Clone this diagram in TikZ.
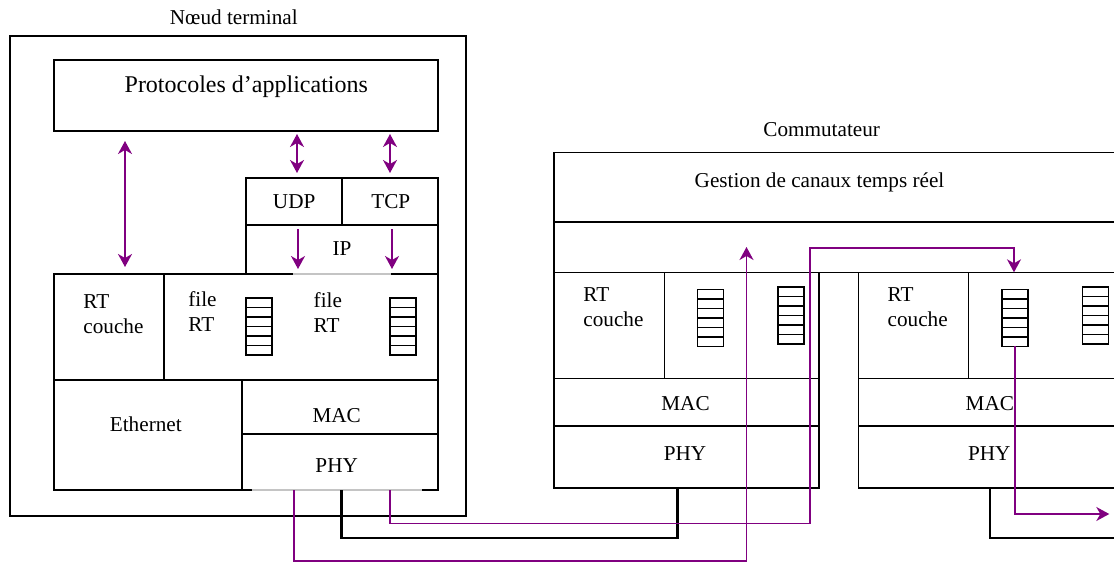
\documentclass[tikz,border=0pt]{standalone}
\usepackage{fontspec}
\setmainfont{Liberation Serif}
\usetikzlibrary{arrows.meta, fit}
\definecolor{sigpurple}{HTML}{800080}
\definecolor{gapgray}{HTML}{C4C4C4}
\newcommand{\lblfont}{\fontsize{10.6}{12.5}\selectfont}
\newcommand{\bigfont}{\fontsize{12}{14}\selectfont}

\begin{document}
\begin{tikzpicture}[
  x=0.5pt, y=-0.5pt,
  box/.style={draw, line width=0.8pt, inner sep=0pt, outer sep=0pt},
  lbl/.style={inner sep=0pt, font=\lblfont},
  lbl2/.style={inner sep=0pt, font=\lblfont, align=left, anchor=west},
  qline/.style={line width=0.7pt},
  sig/.style={draw=sigpurple, line width=0.75pt},
  sigarr/.style={-{Stealth[length=6.5pt, width=7pt, inset=2pt]}},
  dbl/.style={{Stealth[length=6.5pt, width=7pt, inset=2pt]}-{Stealth[length=6.5pt, width=7pt, inset=2pt]}},
  cable/.style={line width=1.4pt},
  gapline/.style={draw=gapgray, line width=0.8pt},
  fileq/.pic={
    \draw[qline] (0,0) rectangle (26,57);
    \foreach \r in {1,...,5} {\draw[qline] (0,\r*9.5) -- (26,\r*9.5);}
    \coordinate (-bot) at (13,57);
  }
]
\useasboundingbox (0,0) rectangle (1114,563);
\clip (0,0) rectangle (1114,563);

% noeud terminal
\node[lbl] (ntitle) at (233.8,17.3) {Nœud terminal};
\node[box, fit={(10,36) (466,516)}] (term) {};
\node[box, fit={(54,60) (438,131)}] (app) {};
\node[lbl, font=\bigfont] (apptxt) at (246.3,86.7) {Protocoles d’applications};

\node[box, fit={(246,178) (342,225)}] (udp) {};
\node[box, fit={(342,178) (438,225)}] (tcp) {};
\node[box, fit={(246,225) (438,274)}] (ip) {};
\node[lbl] (udptxt) at (294.2,201.7) {UDP};
\node[lbl] (tcptxt) at (390.8,201.7) {TCP};
\node[lbl] (iptxt) at (342,248.8) {IP};

\node[box, fit={(54,274) (164,380)}] (rtL) {};
\node[box, fit={(164,274) (438,380)}] (fileL) {};
\node[box, fit={(54,380) (242,490)}] (ethL) {};
\node[box, fit={(242,380) (438,434)}] (macL) {};
\node[box, fit={(242,434) (438,490)}] (phyL) {};
\draw[gapline] (293,274) -- (391,274);
\draw[gapline] (251.7,490) -- (421.7,490);

\node[lbl2] (rtLtxt) at (83,313.7) {RT\\couche};
\node[lbl2] (fileAtxt) at (188,311.3) {file\\RT};
\node[lbl2] (fileBtxt) at (313.3,312.8) {file\\RT};
\pic (qa) at (246,298) {fileq};
\pic (qb) at (390,298) {fileq};
\node[lbl] (ethtxt) at (145.8,424.7) {Ethernet};
\node[lbl] (macLtxt) at (336.7,415.5) {MAC};
\node[lbl] (phyLtxt) at (336.7,465.8) {PHY};

\draw[sig, dbl] ([shift={(71,10)}]app.south west) -- ([shift={(71,-7)}]rtL.north west);
\draw[sig, dbl] ([shift={(3,-44)}]udp.north) -- ([shift={(3,-5)}]udp.north);
\draw[sig, dbl] ([shift={(0,-44)}]tcp.north) -- ([shift={(0,-5)}]tcp.north);
\draw[sig, sigarr] ([shift={(52,4)}]ip.north west) -- ([shift={(52,44)}]ip.north west);
\draw[sig, sigarr] ([shift={(146,4)}]ip.north west) -- ([shift={(146,44)}]ip.north west);

% commutateur
\node[lbl] (stitle) at (821.7,129.2) {Commutateur};
\node[box, fit={(554,152.3) (1140,221.7)}] (gest) {};
\node[box, fit={(554,221.7) (1140,272.3)}] (band) {};
\node[lbl] (gesttxt) at (819.5,182) {Gestion de canaux temps réel};

\foreach \m/\dx in {1/0, 2/304.3} {
  \node[box, fit={(554+\dx,272.3) (818.7+\dx,487.7)}] (mod\m) {};
  \node[box, fit={(554+\dx,272.3) (664.3+\dx,378.3)}] (rt\m) {};
  \node[box, fit={(554+\dx,378.3) (818.7+\dx,426)}] (mac\m) {};
  \node[box, fit={(554+\dx,426) (818.7+\dx,487.7)}] (phy\m) {};
  \node[lbl2] (rttxt\m) at (583+\dx,306.8) {RT\\couche};
  \node[lbl] (mactxt\m) at (685.5+\dx,403.8) {MAC};
  \node[lbl] (phytxt\m) at (685+\dx,453.8) {PHY};
  \pic (qa\m) at (697.7+\dx,289.3) {fileq};
  \pic (qb\m) at (778+\dx,287) {fileq};
}

% liaisons
\coordinate (upin) at (746.5,247);
\coordinate (hop) at (810,248);
\coordinate (outR) at (1109.3,514);
\coordinate (cabEnd) at (1130,538);

\draw[sig, sigarr] ([shift={(52,0)}]phyL.south west) -- ++(0,71) -| (upin);
\draw[cable] ([shift={(99.7,0)}]phyL.south west) -- ++(0,48) -| ([shift={(123.7,0)}]phy1.south west);
\draw[sig, sigarr] ([shift={(148,0)}]phyL.south west) -- ++(0,33.5) -| (hop) -| ([shift={(155.7,0)}]mod2.north west);
\draw[sig, sigarr] (qa2-bot) |- (outR);
\draw[cable] ([shift={(131.7,0)}]phy2.south west) |- (cabEnd);
\end{tikzpicture}
\end{document}
